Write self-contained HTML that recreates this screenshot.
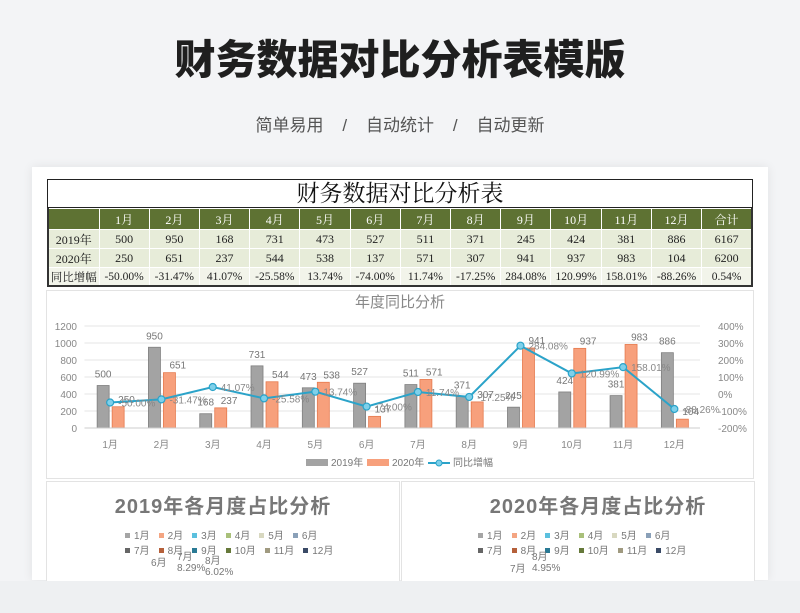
<!DOCTYPE html>
<html><head><meta charset="utf-8">
<style>
body{margin:0;width:800px;height:613px;background:#f3f4f6;font-family:"Liberation Sans","Noto Sans CJK SC",sans-serif;position:relative;overflow:hidden}
.abs{position:absolute}
#title{left:0;width:800px;top:32px;text-align:center;font-size:41px;font-weight:900;color:#1f1f1f;line-height:56px}
#sub{left:0;width:800px;top:114px;text-align:center;font-size:17px;color:#555;line-height:24px}
#card{left:32px;top:167px;width:736px;height:413px;background:#fff;box-shadow:0 0 10px rgba(0,0,0,0.08)}
table{border-collapse:collapse;font-family:"Liberation Serif","Noto Serif CJK SC",serif;font-size:12px}
td{text-align:center;padding:0;border:1px solid #fff;white-space:nowrap}
.hd td{background:#5e7233;color:#fff;height:20px}
.r td{background:#e7ecd9;color:#222;height:18px}
.r2 td{background:#f2f4ea;color:#222;height:17px;font-size:11.5px}
.panel{background:#fff;border:1px solid #e3e3e3}
.ptitle{font-weight:bold;font-size:20px;color:#777;text-align:center;letter-spacing:1px}
.leg{font-size:10px;color:#777}
.leg span{display:inline-block;margin-right:9px}
.leg i{display:inline-block;width:5px;height:5px;margin-right:4px;vertical-align:1px}
</style></head><body>
<div id="title" class="abs">财务数据对比分析表模版</div>
<div id="sub" class="abs">简单易用&nbsp;&nbsp;&nbsp;&nbsp;/&nbsp;&nbsp;&nbsp;&nbsp;自动统计&nbsp;&nbsp;&nbsp;&nbsp;/&nbsp;&nbsp;&nbsp;&nbsp;自动更新</div>
<div id="card" class="abs"></div>
<div class="abs" style="left:47px;top:179px;width:704px;height:27px;border:1px solid #222;border-bottom:2px solid #222;text-align:center;font-size:23px;line-height:27px;font-family:'Liberation Serif','Noto Serif CJK SC',serif;color:#111">财务数据对比分析表</div>
<table class="abs" style="left:47px;top:208px;width:706px;table-layout:fixed;border-left:2px solid #333;border-right:2px solid #333">
<colgroup><col style="width:51px"><col span="13"></colgroup>
<tr class="hd"><td></td><td>1月</td><td>2月</td><td>3月</td><td>4月</td><td>5月</td><td>6月</td><td>7月</td><td>8月</td><td>9月</td><td>10月</td><td>11月</td><td>12月</td><td>合计</td></tr>
<tr class="r"><td>2019年</td><td>500</td><td>950</td><td>168</td><td>731</td><td>473</td><td>527</td><td>511</td><td>371</td><td>245</td><td>424</td><td>381</td><td>886</td><td>6167</td></tr>
<tr class="r"><td>2020年</td><td>250</td><td>651</td><td>237</td><td>544</td><td>538</td><td>137</td><td>571</td><td>307</td><td>941</td><td>937</td><td>983</td><td>104</td><td>6200</td></tr>
<tr class="r2" style="border-bottom:2px solid #333"><td>同比增幅</td><td>-50.00%</td><td>-31.47%</td><td>41.07%</td><td>-25.58%</td><td>13.74%</td><td>-74.00%</td><td>11.74%</td><td>-17.25%</td><td>284.08%</td><td>120.99%</td><td>158.01%</td><td>-88.26%</td><td>0.54%</td></tr>
</table>
<div class="abs panel" style="left:46px;top:290px;width:706px;height:187px"></div>
<svg class="abs" style="left:0;top:0" width="800" height="613" id="chart"></svg>
<div class="abs panel" style="left:46px;top:481px;width:352px;height:100px">
<div class="ptitle" style="margin-top:8px">2019年各月度占比分析</div>
<div class="leg" style="margin:10px 0 0 78px;line-height:15px">
<span><i style="background:#a5a5a5"></i>1月</span><span><i style="background:#f4a582"></i>2月</span><span><i style="background:#5bc0de"></i>3月</span><span><i style="background:#a9c07a"></i>4月</span><span><i style="background:#d8d8c0"></i>5月</span><span><i style="background:#8aa0b8"></i>6月</span><br>
<span><i style="background:#666"></i>7月</span><span><i style="background:#b5603a"></i>8月</span><span><i style="background:#2a7a95"></i>9月</span><span><i style="background:#66793a"></i>10月</span><span><i style="background:#a09a80"></i>11月</span><span><i style="background:#3a4a66"></i>12月</span></div>
<div class="leg abs" style="left:104px;top:72px">6月</div><div class="leg abs" style="left:130px;top:66px">7月<br>8.29%</div><div class="leg abs" style="left:158px;top:70px">8月<br>6.02%</div>
</div>
<div class="abs panel" style="left:401px;top:481px;width:352px;height:100px">
<div class="ptitle" style="margin-top:8px;padding-left:40px">2020年各月度占比分析</div>
<div class="leg" style="margin:10px 0 0 76px;line-height:15px">
<span><i style="background:#a5a5a5"></i>1月</span><span><i style="background:#f4a582"></i>2月</span><span><i style="background:#5bc0de"></i>3月</span><span><i style="background:#a9c07a"></i>4月</span><span><i style="background:#d8d8c0"></i>5月</span><span><i style="background:#8aa0b8"></i>6月</span><br>
<span><i style="background:#666"></i>7月</span><span><i style="background:#b5603a"></i>8月</span><span><i style="background:#2a7a95"></i>9月</span><span><i style="background:#66793a"></i>10月</span><span><i style="background:#a09a80"></i>11月</span><span><i style="background:#3a4a66"></i>12月</span></div>
<div class="leg abs" style="left:108px;top:78px">7月</div><div class="leg abs" style="left:130px;top:66px">8月<br>4.95%</div>
</div>
<div class="abs" style="left:0;top:581px;width:800px;height:32px;background:#eef0f2"></div>
<script>
const categories=["1月","2月","3月","4月","5月","6月","7月","8月","9月","10月","11月","12月"];
const values2019=[500,950,168,731,473,527,511,371,245,424,381,886];
const values2020=[250,651,237,544,538,137,571,307,941,937,983,104];
const growth=[-50.00,-31.47,41.07,-25.58,13.74,-74.00,11.74,-17.25,284.08,120.99,158.01,-88.26];
const leftTicks=[0,200,400,600,800,1000,1200];
const rightTicks=[-200,-100,0,100,200,300,400];
const svg=document.getElementById('chart');const NS='http://www.w3.org/2000/svg';
const X0=84.5,X1=700,Y0=428,Y1=326;
const bw=(X1-X0)/categories.length;
const xc=i=>X0+bw*(i+0.5);
const yL=v=>Y0-(v/1200)*(Y0-Y1);
const yR=v=>Y0-((v+200)/600)*(Y0-Y1);
function mk(t,a,txt){const e=document.createElementNS(NS,t);for(const k in a)e.setAttribute(k,a[k]);if(txt!=null)e.textContent=txt;svg.appendChild(e);return e;}
let e=mk('text',{x:400,y:307,'text-anchor':'middle','font-size':15,fill:'#888'},'年度同比分析');


leftTicks.forEach(v=>{
 e=mk('line',{x1:X0,x2:X1,y1:yL(v),y2:yL(v),stroke:'#e4e4e4'});
 
 
 e=mk('text',{x:77,y:yL(v)+4,'text-anchor':'end','font-size':10,fill:'#888'},v);
 
 
});
rightTicks.forEach(v=>{
 e=mk('text',{x:718,y:yR(v)+4,'font-size':10,fill:'#888'},v+'%');
 
 
});
categories.forEach((c,i)=>{
 e=mk('text',{x:xc(i),y:448,'text-anchor':'middle','font-size':10,fill:'#888'},c);
 
 
 const w=12;
 e=mk('rect',{x:xc(i)-w-1,y:yL(values2019[i]),width:w,height:Y0-yL(values2019[i]),fill:'#a3a3a3',stroke:'#7f7f7f','stroke-width':0.8});
 
 
 e=mk('rect',{x:xc(i)+2,y:yL(values2020[i]),width:w,height:Y0-yL(values2020[i]),fill:'#f7a07c',stroke:'#e67a4e','stroke-width':0.8});
 
 
 e=mk('text',{x:xc(i)-7,y:yL(values2019[i])-8,'text-anchor':'middle','font-size':10,fill:'#777'},values2019[i]);
 
 
 e=mk('text',{x:xc(i)+8,y:yL(values2020[i])-4,'text-anchor':'start','font-size':10,fill:'#777'},values2020[i]);
 
 
});
e=mk('line',{x1:X0,x2:X1,y1:Y0,y2:Y0,stroke:'#ccc'});
let pts=growth.map((g,i)=>xc(i)+','+yR(g)).join(' ');
e=mk('polyline',{points:pts,fill:'none',stroke:'#2ba3c9','stroke-width':2});


growth.forEach((g,i)=>{
 e=mk('circle',{cx:xc(i),cy:yR(g),r:3.5,fill:'#7fd0ea',stroke:'#2ba3c9','stroke-width':1.2});
 
 
 e=mk('text',{x:xc(i)+8,y:yR(g)+4,'font-size':10,fill:'#888'},g.toFixed(2)+'%');
 
 
});
e=mk('rect',{x:306,y:459,width:22,height:7,fill:'#a3a3a3'});


mk('text',{x:331,y:466,'font-size':10,fill:'#777'},'2019年');
e=mk('rect',{x:367,y:459,width:22,height:7,fill:'#f7a07c'});


mk('text',{x:392,y:466,'font-size':10,fill:'#777'},'2020年');
mk('line',{x1:428,x2:450,y1:463,y2:463,stroke:'#2ba3c9','stroke-width':2});
e=mk('circle',{cx:439,cy:463,r:3,fill:'#7fd0ea',stroke:'#2ba3c9'});


mk('text',{x:453,y:466,'font-size':10,fill:'#777'},'同比增幅');
</script>
</body></html>
